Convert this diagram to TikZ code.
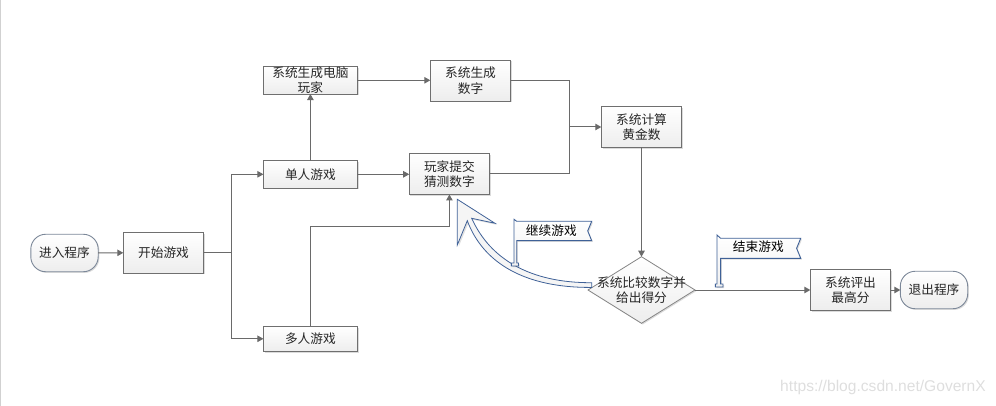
\documentclass[tikz,border=0pt]{standalone}
\usepackage{fontspec}
\setmainfont{Noto Sans CJK SC}
\newfontfamily\wmfont{Liberation Sans}
\usetikzlibrary{arrows.meta,shapes.geometric,shadows}
\definecolor{linegray}{HTML}{6A6A6A}
\definecolor{boxedge}{HTML}{6F6F6F}
\definecolor{termedge}{HTML}{7C8899}
\definecolor{flagblue}{HTML}{3F6197}
\definecolor{txt}{HTML}{262626}
\tikzset{
  softshadow/.style={drop shadow={shadow xshift=1.2pt,shadow yshift=-1.2pt,fill=black,opacity=0.14}},
  base/.style={inner sep=0pt,outer sep=0pt,align=center,text=txt,font=\fontsize{12.7}{15.5}\selectfont,
    top color=white,bottom color=black!7,softshadow},
  stepbox/.style={base,draw=boxedge,line width=0.9pt,rectangle,minimum width=#1},
  stepbox/.default=80.4pt,
  terminal/.style={base,draw=termedge,line width=0.9pt,rectangle,rounded corners=15pt,minimum width=67.4pt,minimum height=37.5pt},
  decision/.style={base,draw=boxedge!85,line width=0.8pt,diamond,minimum width=107pt,minimum height=66.6pt},
  flow/.style={draw=linegray,line width=1pt},
  flowto/.style={flow,-{Triangle[length=6pt,width=6.5pt,fill=linegray]}},
  flagshape/.style={draw=flagblue,line width=0.9pt,line join=miter,top color=white,bottom color=black!6,softshadow},
  blockarrow/.style={draw=flagblue,line width=0.8pt,fill=black!4},
  flagtext/.style={inner sep=0pt,text=black,font=\fontsize{12.7}{15}\selectfont},
}
\begin{document}
\begin{tikzpicture}[x=1pt,y=-1pt]
\useasboundingbox (0,0) rectangle (996,406);
\fill[black!18] (0,0) rectangle (1.2,406);

% nodes
\node[terminal] (enter) at (64.5,253) {进入程序};
\node[stepbox,minimum height=40.5pt] (start) at (163.5,252.8) {开始游戏};
\node[stepbox=94pt,minimum height=27.5pt] (single) at (310.4,174.3) {单人游戏};
\node[stepbox=94pt,minimum height=27.5pt] (pcplayer) at (310.4,80.3) {系统生成电脑\\玩家};
\node[stepbox=94pt,minimum height=25pt] (multi) at (310.4,338.8) {多人游戏};
\node[stepbox,minimum height=41pt] (gen) at (470.5,80.6) {系统生成\\数字};
\node[stepbox,minimum height=41pt] (submit) at (449.4,174) {玩家提交\\猜测数字};
\node[stepbox,minimum height=41pt] (calc) at (641.5,127) {系统计算\\黄金数};
\node[decision,label={[align=center,inner sep=0pt,text=txt,font=\fontsize{12.7}{14.5}\selectfont]center:系统比较数字并\\给出得分}] (cmp) at (641.5,290) {};
\node[stepbox,minimum height=41.4pt] (best) at (850.5,290) {系统评出\\最高分};
\node[terminal] (quit) at (934,290) {退出程序};

% block arrow of the "continue" branch
\coordinate (aTip) at (457.3,199.3);
\coordinate (aRight) at (495,223.3);
\coordinate (aNotchA) at (471.7,218.3);
\coordinate (aNotchB) at (467.3,220.7);
\coordinate (aLeft) at (457.3,245);
\coordinate (aEndA) at (591.7,282.7);
\coordinate (aEndB) at (591.7,287.4);
\fill[black,opacity=0.12] ([shift={(1.5,1.5)}]aTip) -- ([shift={(1.5,1.5)}]aRight) -- ([shift={(1.5,1.5)}]aNotchA) -- ([shift={(1.5,1.5)}]aNotchB) -- ([shift={(1.5,1.5)}]aLeft) -- cycle;
\path[blockarrow] (aTip) -- (aRight) -- (aNotchA)
  .. controls (490,259) and (530,283) .. (aEndA) -- (aEndB)
  .. controls (525,288) and (483,263) .. (aNotchB) -- (aLeft) -- cycle;

% flags
\path[flagshape] (514,219.3) -- (516.7,221.3) -- (591.7,221.3) -- (587.7,230.9) -- (591.7,240.7)
  -- (516.7,240.7) -- (516.7,263) -- (518.5,263) -- (518.5,266) -- (511.3,266) -- (511.3,263) -- (514,263) -- cycle;
\node[flagtext,fill=white] (contlabel) at (551.3,231) {继续游戏};
\path[flagshape] (717,235) -- (720.6,238.3) -- (800.7,238.3) -- (796.6,248.3) -- (800.7,258.3)
  -- (720.6,258.3) -- (720.6,284) -- (723,284) -- (723,287) -- (715.3,287) -- (715.3,284) -- (717,284) -- cycle;
\node[flagtext] (endlabel) at (758.3,246.8) {结束游戏};

% connectors
\coordinate (trunk) at (231.3,252.8);
\coordinate (merge) at (569.3,127);
\coordinate (mbend) at (310.4,226.3);
\draw[flowto] (enter.east) -- (start.west);
\draw[flow] (start.east) -- (trunk);
\draw[flowto] (trunk) |- (single.west);
\draw[flowto] (trunk) |- (multi.west);
\draw[flowto] (single.north) -- (pcplayer.south);
\draw[flowto] (single.east) -- (submit.west |- single.east);
\draw[flowto] (pcplayer.east) -- (gen.west |- pcplayer.east);
\draw[flowto] (multi.north) -- (mbend) -| (submit.south);
\draw[flow] (gen.east) -| (merge);
\draw[flow] (submit.east) -| (merge);
\draw[flowto] (merge) -- (calc.west);
\draw[flowto] (calc.south) -- (cmp.north);
\draw[flowto] (cmp.east) -- (best.west);
\draw[flowto] (best.east) -- (quit.west);

% watermark
\node[inner sep=0pt,text=black!13,font=\wmfont\fontsize{15.6}{18}\selectfont] (wm) at (883,387) {https://blog.csdn.net/GovernX};
\end{tikzpicture}
\end{document}
